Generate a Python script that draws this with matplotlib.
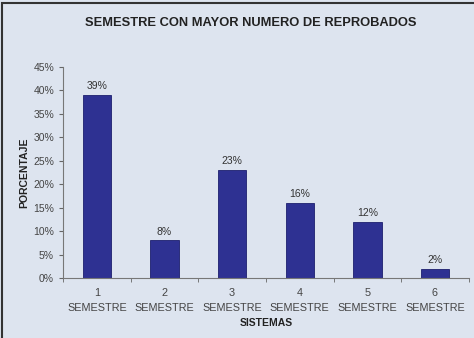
import matplotlib
matplotlib.use("Agg")
import matplotlib.pyplot as plt
from matplotlib.patches import Rectangle

semestres = ["1\nSEMESTRE", "2\nSEMESTRE", "3\nSEMESTRE", "4\nSEMESTRE", "5\nSEMESTRE", "6\nSEMESTRE"]
porcentajes = [39, 8, 23, 16, 12, 2]
yticks = [0, 5, 10, 15, 20, 25, 30, 35, 40, 45]

plt.rcParams['font.family'] = ['Liberation Sans', 'DejaVu Sans']
bg = '#dde4ef'
bar_color = '#2e3192'

fig = plt.figure(figsize=(4.74, 3.38), dpi=100, facecolor=bg)
ax = fig.add_axes([0.133, 0.1775, 0.856, 0.6245])
ax.set_facecolor(bg)

x = range(len(semestres))
bars = ax.bar(x, porcentajes, width=0.42, color=bar_color, edgecolor='#1c1f6e', linewidth=0.6)
for xi, v in zip(x, porcentajes):
    ax.text(xi, v + 0.8, f"{v}%", ha='center', va='bottom', fontsize=7.5, color='#333333')

ax.set_xlim(-0.5, len(semestres) - 0.5)
ax.set_ylim(0, 45)
ax.set_yticks(yticks)
ax.set_yticklabels([f"{t}%" for t in yticks], fontsize=7.5, color='#444444')
ax.set_xticks(x)
ax.set_xticklabels(semestres, fontsize=7.8, color='#444444', linespacing=1.6)
ax.set_xticks([i - 0.5 for i in range(len(semestres) + 1)], minor=True)
ax.tick_params(axis='x', which='major', length=0, pad=7)
ax.tick_params(axis='x', which='minor', length=3, color='#666666', direction='out')
ax.tick_params(axis='y', length=3, color='#666666', direction='out')

for s in ['top', 'right']:
    ax.spines[s].set_visible(False)
for s in ['left', 'bottom']:
    ax.spines[s].set_color('#777777')
    ax.spines[s].set_linewidth(0.8)

ax.set_ylabel("PORCENTAJE", fontsize=7.5, fontweight='bold', color='#222222', labelpad=3)
ax.set_xlabel("SISTEMAS", fontsize=7.5, fontweight='bold', color='#222222', labelpad=4)

fig.text(0.528, 0.932, "SEMESTRE CON MAYOR NUMERO DE REPROBADOS", ha='center', va='center',
         fontsize=9.3, fontweight='bold', color='#222222')

fig.patches.append(Rectangle((0.004, -0.05), 1.2, 1.041, transform=fig.transFigure,
                             fill=False, edgecolor='#333333', linewidth=1.5))

fig.savefig("out.png", dpi=100, facecolor=bg)
